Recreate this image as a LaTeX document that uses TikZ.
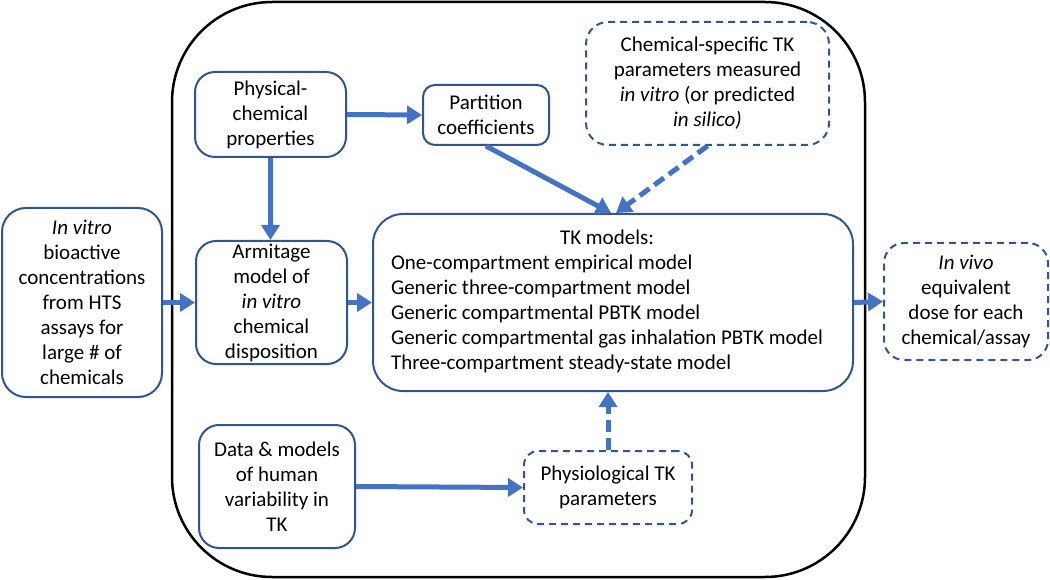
\documentclass[tikz,border=0pt]{standalone}
\usepackage{fontspec}
\setmainfont{Carlito}
\usetikzlibrary{arrows.meta,calc}
\definecolor{boxblue}{HTML}{2F5597}
\definecolor{arrblue}{HTML}{4472C4}
\begin{document}
\begin{tikzpicture}[x=1pt,y=-1pt,
  every node/.style={font=\fontsize{21}{25}\selectfont, inner sep=0pt},
  solidbox/.style={draw=boxblue, line width=2pt, rounded corners=20pt, align=center},
  dashbox/.style={solidbox, dash pattern=on 7pt off 5pt},
  conn/.style={draw=arrblue, line width=5pt, -{Triangle[length=15pt,width=18pt]}},
  dconn/.style={conn, dash pattern=on 12pt off 6pt}]
\useasboundingbox (0,0) rectangle (1050,580);
% outer frame
\draw[line width=2.5pt, rounded corners=100pt] (172,2) rectangle (865,577);
% nodes
\node[solidbox, minimum width=160pt, minimum height=189pt, rounded corners=24pt] (invitro) at (82,302.5)
  {\textit{In vitro}\\ bioactive\\ concentrations\\ from HTS\\ assays for\\ large \# of\\ chemicals};
\node[solidbox, minimum width=151pt, minimum height=123pt] (armitage) at (271.5,302.5)
  {Armitage\\ model of\\ \textit{in vitro}\\ chemical\\ disposition};
\node[solidbox, minimum width=151pt, minimum height=85pt] (phys) at (270.5,114.5)
  {Physical-\\ chemical\\ properties};
\node[solidbox, minimum width=126pt, minimum height=60pt, rounded corners=12pt] (part) at (486,115)
  {Partition\\ coefficients};
\node[dashbox, minimum width=243pt, minimum height=123pt, rounded corners=22pt] (chem) at (707.5,83.5)
  {Chemical-specific TK\\ parameters measured\\ \textit{in vitro} (or predicted\\ \textit{in silico)}};
\node[solidbox, minimum width=480pt, minimum height=177pt, rounded corners=30pt] (tk) at (613,302.5)
  {\begin{tabular}{@{}l@{}}
   \multicolumn{1}{@{}c@{}}{TK models:}\\
   One-compartment empirical model\\
   Generic three-compartment model\\
   Generic compartmental PBTK model\\
   Generic compartmental gas inhalation PBTK model\\
   Three-compartment steady-state model
   \end{tabular}\hspace{12pt}};
\node[dashbox, minimum width=164pt, minimum height=117pt] (invivo) at (966,301.5)
  {\textit{In vivo}\\ equivalent\\ dose for each\\ chemical/assay};
\node[solidbox, minimum width=156pt, minimum height=123pt] (data) at (277,486.5)
  {Data \& models\\ of human\\ variability in\\ TK};
\node[dashbox, minimum width=168pt, minimum height=73pt, rounded corners=14pt] (physio) at (608,487.5)
  {Physiological TK\\ parameters};
% connectors
\draw[conn] (phys.east) -- (part.west);
\draw[conn] (phys.south) -- (phys.south |- armitage.north);
\draw[conn] (part.south) -- ($(tk.north)+(-2,0)$);
\draw[dconn] (chem.south) -- ($(tk.north)+(3,0)$);
\draw[conn] (invitro.east) -- (armitage.west);
\draw[conn] (armitage.east) -- (tk.west);
\draw[conn] (tk.east) -- (invivo.west);
\draw[conn] (data.east) -- (physio.west);
\draw[dconn] (physio.north) -- (physio.north |- tk.south);
\end{tikzpicture}
\end{document}
